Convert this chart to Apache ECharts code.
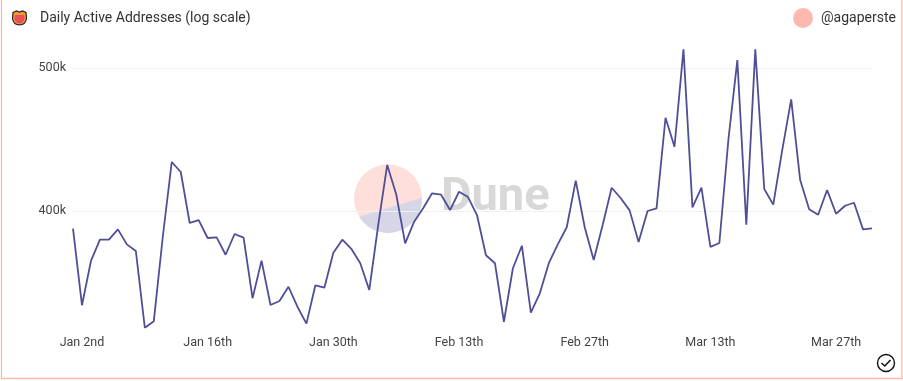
<!DOCTYPE html>
<html>
<head>
<meta charset="utf-8">
<style>
html, body { margin: 0; padding: 0; background: #fff; }
#chart { width: 903px; height: 381px; }
</style>
<script src="https://cdn.jsdelivr.net/npm/echarts@6/dist/echarts.min.js"></script>
</head>
<body>
<div id="chart"></div>
<script>
var title = "Daily Active Addresses (log scale)"
var author = "@agaperste"

// Jan 1st .. Mar 31st, one value a day
var tickIndexes = [1, 15, 29, 43, 57, 71, 85]
var tickLabels = ["Jan 2nd", "Jan 16th", "Jan 30th", "Feb 13th", "Feb 27th", "Mar 13th", "Mar 27th"]
var yTicks = [400000, 500000]

var addresses = [
    389.1, 345.3, 370.0, 382.5, 382.5, 388.7, 379.7, 375.8, 333.4, 336.8,
    384.1, 431.8, 425.1, 392.6, 394.4, 383.5, 383.9, 373.6, 385.9, 383.7,
    349.1, 370.2, 345.4, 347.6, 355.4, 344.5, 335.5, 356.2, 354.9, 374.8,
    382.5, 377.1, 368.7, 353.6, 391.4, 429.8, 410.6, 380.3, 393.4, 401.7,
    411.2, 410.3, 400.6, 412.2, 408.8, 397.5, 373.3, 368.7, 336.5, 365.8,
    378.9, 341.3, 351.8, 368.7, 379.7, 390.0, 419.4, 390.0, 370.6, 391.4,
    414.8, 408.2, 400.4, 381.1, 400.0, 401.7, 462.7, 442.2, 514.8, 402.3,
    414.8, 378.2, 380.5, 446.9, 506.3, 391.5, 514.8, 414.0, 404.0, 439.9,
    476.2, 419.8, 401.1, 397.7, 413.3, 398.3, 403.3, 405.2, 388.7, 389.3
]

var font = "Roboto"
echarts.graphic.registerShape("duneChord", echarts.graphic.extendPath("M359,216.7 A34,34 0 0 0 422,197.7 Z"))
echarts.graphic.registerShape("shieldBody", echarts.graphic.extendPath("M13,12.5 L16.5,11 L19.5,12 L22.5,11 L26,12.5 L26.5,18.5 C26,22.5 23,24.8 19.5,24.8 C16,24.8 13,22.5 12.5,18.5 Z"))
echarts.graphic.registerShape("shieldInner", echarts.graphic.extendPath("M15,15 L24,15 L24.6,18.5 C24,21.5 22,23.5 19.5,23.5 C17,23.5 15,21.5 14.4,18.5 Z"))

var chart = echarts.init(document.getElementById("chart"), null, {renderer: "canvas"})

chart.setOption({
    animation: false,
    grid: {left: 73, right: 31, top: 48, bottom: 51},
    xAxis: {
        type: "category",
        boundaryGap: false,
        data: addresses.map(function(v, i) { return i }),
        axisLine: {show: false},
        axisTick: {show: false},
        splitLine: {show: false},
        axisLabel: {
            interval: function(i) { return tickIndexes.indexOf(i) >= 0 },
            formatter: function(v, i) { return tickLabels[tickIndexes.indexOf(i)] },
            color: "#444",
            fontFamily: font,
            fontSize: 12.5,
            margin: 6
        }
    },
    yAxis: {
        type: "log",
        min: 332200,
        max: 515900,
        axisLine: {show: false},
        axisTick: {show: false, customValues: yTicks},
        splitLine: {show: true, lineStyle: {color: "#f0f0f0", width: 1}},
        axisLabel: {
            customValues: yTicks,
            formatter: function(v) { return Math.round(v / 1000) + "k" },
            color: "#444",
            fontFamily: font,
            fontSize: 12.5,
            margin: 7
        }
    },
    series: [{
        type: "line",
        data: addresses.map(function(v) { return v * 1000 }),
        showSymbol: false,
        z: 5,
        lineStyle: {color: "#4f4f97", width: 1.8}
    }],
    graphic: [
        // card border, open at the top
        {type: "rect", z: -10, shape: {x: 1.5, y: -5, width: 900.5, height: 383.5},
            style: {fill: "#fff", stroke: "#ffb8b0", lineWidth: 1.3}},
        // watermark
        {type: "circle", z: 0, shape: {cx: 388, cy: 198.3, r: 34}, style: {fill: "#fedfda"}},
        {type: "duneChord", z: 0, style: {fill: "#d6d6e6"}},
        {type: "text", z: 0, x: 441, y: 198.5, style: {text: "Dune", fill: "#d8d8d8",
            font: "bold 47px Roboto", verticalAlign: "middle"}},
        // header
        {type: "shieldBody", z: 10, style: {fill: "#f39c2d", stroke: "#2a2230", lineWidth: 1.2}},
        {type: "shieldInner", z: 11, style: {fill: "#e8505b"}},
        {type: "text", z: 10, x: 40, y: 18, style: {text: title, fill: "#333",
            font: "14px Roboto", verticalAlign: "middle"}},
        {type: "circle", z: 10, shape: {cx: 803, cy: 18, r: 10}, style: {fill: "#ffb8b0"}},
        {type: "text", z: 10, x: 821, y: 18, style: {text: author, fill: "#333",
            font: "14px Roboto", verticalAlign: "middle"}},
        // check mark
        {type: "circle", z: 10, shape: {cx: 886, cy: 363, r: 8.5},
            style: {fill: "none", stroke: "#111", lineWidth: 1.4}},
        {type: "polyline", z: 10, shape: {points: [[881.5, 363], [884.8, 366], [890.5, 360]]},
            style: {fill: "none", stroke: "#111", lineWidth: 1.6}}
    ]
})
</script>
</body>
</html>
